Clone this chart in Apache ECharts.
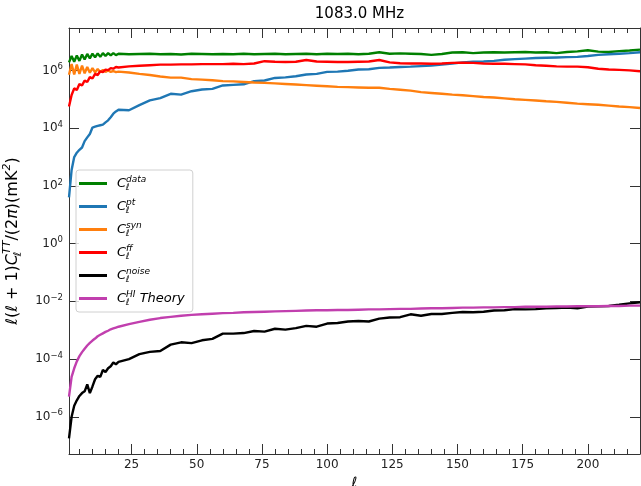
<!DOCTYPE html>
<html>
<head>
<meta charset="utf-8">
<title>1083.0 MHz</title>
<script src="https://cdn.jsdelivr.net/npm/echarts@6/dist/echarts.min.js"></script>
<style>
  html, body { margin: 0; padding: 0; background: #fff; }
  #chart { width: 641px; height: 486px; }
</style>
</head>
<body>
<div id="chart"></div>
<script>
// multipole ℓ
const ell = [
  1, 2, 3, 4, 5, 6, 7, 8, 9, 10, 11, 12, 13, 14, 15, 16, 17, 18, 19, 20,
  24, 28, 32, 36, 40, 44, 48, 52, 56, 60, 64, 68, 72, 76, 80, 84, 88, 92, 96, 100,
  104, 108, 112, 116, 120, 124, 128, 132, 136, 140, 144, 148, 152, 156, 160, 164, 168, 172, 176, 180,
  184, 188, 192, 196, 200, 204, 208, 212, 216, 220,
];

// log10 of l(l+1)C_l/(2pi) in mK^2
const clData = [
  6.28, 6.50, 6.30, 6.52, 6.33, 6.55, 6.38, 6.57, 6.42, 6.58, 6.45, 6.59, 6.47, 6.60, 6.50, 6.60, 6.52, 6.60, 6.53, 6.58,
  6.56, 6.57, 6.58, 6.56, 6.57, 6.55, 6.58, 6.57, 6.56, 6.57, 6.56, 6.58, 6.56, 6.57, 6.58, 6.56, 6.57, 6.58, 6.56, 6.58,
  6.57, 6.58, 6.56, 6.58, 6.63, 6.58, 6.59, 6.58, 6.57, 6.54, 6.57, 6.62, 6.63, 6.60, 6.62, 6.63, 6.62, 6.63, 6.64, 6.62,
  6.63, 6.60, 6.64, 6.66, 6.70, 6.65, 6.64, 6.67, 6.69, 6.72,
];
const clPt = [
  1.60, 2.55, 3.00, 3.15, 3.25, 3.33, 3.55, 3.68, 3.80, 4.02, 4.05, 4.08, 4.10, 4.12, 4.20, 4.27, 4.38, 4.50, 4.58, 4.64,
  4.62, 4.80, 4.96, 5.04, 5.19, 5.16, 5.28, 5.34, 5.36, 5.48, 5.50, 5.52, 5.63, 5.65, 5.74, 5.76, 5.80, 5.86, 5.88, 5.95,
  5.96, 5.99, 6.03, 6.04, 6.09, 6.10, 6.12, 6.13, 6.15, 6.17, 6.20, 6.24, 6.28, 6.30, 6.31, 6.33, 6.37, 6.39, 6.41, 6.43,
  6.44, 6.45, 6.46, 6.47, 6.50, 6.54, 6.56, 6.58, 6.60, 6.63,
];
const clSyn = [
  5.85, 6.22, 5.86, 6.20, 5.88, 6.17, 5.90, 6.12, 5.92, 6.08, 5.93, 6.05, 5.94, 6.02, 5.95, 6.00, 5.95, 5.98, 5.94, 5.96,
  5.93, 5.88, 5.84, 5.79, 5.75, 5.75, 5.70, 5.68, 5.66, 5.63, 5.62, 5.60, 5.58, 5.57, 5.55, 5.53, 5.51, 5.49, 5.47, 5.45,
  5.43, 5.42, 5.41, 5.40, 5.40, 5.36, 5.33, 5.30, 5.25, 5.22, 5.19, 5.16, 5.14, 5.11, 5.08, 5.06, 5.03, 5.00, 4.98, 4.96,
  4.93, 4.91, 4.88, 4.85, 4.83, 4.81, 4.78, 4.75, 4.73, 4.70,
];
const clFf = [
  4.75, 5.15, 5.38, 5.32, 5.53, 5.48, 5.65, 5.60, 5.77, 5.72, 5.88, 5.84, 5.97, 5.94, 6.03, 6.01, 6.08, 6.06, 6.12, 6.10,
  6.14, 6.16, 6.18, 6.20, 6.20, 6.21, 6.21, 6.22, 6.22, 6.22, 6.23, 6.22, 6.24, 6.32, 6.30, 6.29, 6.30, 6.36, 6.31, 6.30,
  6.29, 6.29, 6.30, 6.31, 6.36, 6.28, 6.25, 6.24, 6.24, 6.23, 6.24, 6.26, 6.27, 6.26, 6.24, 6.23, 6.23, 6.22, 6.21, 6.18,
  6.16, 6.14, 6.13, 6.13, 6.11, 6.06, 6.03, 6.02, 6.00, 5.97,
];
const clNoise = [
  -6.75, -6.00, -5.62, -5.43, -5.28, -5.18, -5.12, -4.88, -5.18, -4.95, -4.70, -4.58, -4.62, -4.38, -4.45, -4.32, -4.25, -4.12, -4.18, -4.10,
  -4.00, -3.83, -3.75, -3.72, -3.50, -3.42, -3.45, -3.35, -3.30, -3.12, -3.12, -3.10, -3.03, -3.05, -2.95, -2.98, -2.93, -2.85, -2.88, -2.77,
  -2.75, -2.70, -2.68, -2.70, -2.60, -2.56, -2.55, -2.45, -2.50, -2.44, -2.44, -2.40, -2.37, -2.38, -2.36, -2.32, -2.31, -2.27, -2.28, -2.27,
  -2.24, -2.23, -2.22, -2.24, -2.18, -2.17, -2.16, -2.12, -2.07, -2.03,
];
const clHI = [
  -5.30, -4.62, -4.32, -4.08, -3.90, -3.76, -3.64, -3.53, -3.44, -3.36, -3.29, -3.21, -3.16, -3.11, -3.06, -3.02, -2.97, -2.94, -2.91, -2.88,
  -2.79, -2.71, -2.64, -2.58, -2.54, -2.50, -2.47, -2.45, -2.43, -2.41, -2.40, -2.38, -2.37, -2.36, -2.35, -2.34, -2.33, -2.32, -2.31, -2.31,
  -2.30, -2.30, -2.29, -2.28, -2.28, -2.27, -2.26, -2.26, -2.25, -2.24, -2.24, -2.23, -2.22, -2.22, -2.21, -2.21, -2.20, -2.20, -2.19, -2.19,
  -2.19, -2.18, -2.18, -2.17, -2.17, -2.17, -2.16, -2.16, -2.15, -2.15,
];

const xMajor = [25, 50, 75, 100, 125, 150, 175, 200];
const xMinor = [5, 10, 15, 20, 30, 35, 40, 45, 55, 60, 65, 70, 80, 85, 90, 95, 105, 110, 115, 120,
  130, 135, 140, 145, 155, 160, 165, 170, 180, 185, 190, 195, 205, 210, 215];
const yMajor = [-6, -4, -2, 0, 2, 4, 6]; // decades

const legendLabels = {
  data: '{c|C}{sb|ℓ}{sp|data}',
  pt: '{c|C}{sb|ℓ}{sp|pt}',
  syn: '{c|C}{sb|ℓ}{sp|syn}',
  ff: '{c|C}{sb|ℓ}{sp|ff}',
  noise: '{c|C}{sb|ℓ}{sp|noise}',
  HI: '{c|C}{sb|ℓ}{sp|HI}{t| Theory}',
};

const FONT = 'DejaVu Sans';
const AXIS_COLOR = '#333';

const chart = echarts.init(document.getElementById('chart'));

const toPoints = (vals) => ell.map((l, i) => [l, vals[i]]);

const lineSeries = (name, vals, color) => ({
  name,
  type: 'line',
  data: toPoints(vals),
  symbol: 'none',
  smooth: false,
  lineStyle: { color, width: 2.4 },
  itemStyle: { color },
  emphasis: { disabled: true },
});

const xAxisBase = {
  type: 'value',
  min: 1,
  max: 220,
  splitLine: { show: false },
};
const yAxisBase = {
  type: 'value',
  min: -7.29,
  max: 7.47,
  splitLine: { show: false },
};

const option = {
  animation: false,
  backgroundColor: '#fff',
  title: {
    text: '1083.0 MHz',
    left: 354.5,
    textAlign: 'center',
    top: 2,
    textStyle: { fontFamily: FONT, fontSize: 15, fontWeight: 'normal', color: '#000' },
  },
  grid: {
    left: 69,
    right: 1,
    top: 28,
    bottom: 32,
    containLabel: false,
    outerBoundsMode: 'none',
  },
  legend: {
    orient: 'vertical',
    left: 76,
    top: 170,
    padding: [5, 8, 5, 3],
    itemWidth: 28,
    itemHeight: 3,
    itemGap: 6,
    icon: 'rect',
    backgroundColor: 'rgba(255,255,255,0.8)',
    borderColor: '#d0d0d0',
    borderWidth: 1,
    borderRadius: 3,
    formatter: (name) => legendLabels[name],
    textStyle: {
      color: '#000',
      rich: {
        c: { fontFamily: FONT, fontStyle: 'italic', fontSize: 13, lineHeight: 17, padding: [0, 0, 0, 5] },
        sb: { fontFamily: FONT, fontStyle: 'italic', fontSize: 9, verticalAlign: 'bottom', width: 0 },
        sp: { fontFamily: FONT, fontStyle: 'italic', fontSize: 9, verticalAlign: 'top' },
        t: { fontFamily: FONT, fontStyle: 'italic', fontSize: 13 },
      },
    },
  },
  xAxis: [
    { // bottom, major ticks and labels
      ...xAxisBase,
      position: 'bottom',
      name: 'ℓ',
      nameLocation: 'middle',
      nameGap: 20,
      nameTextStyle: { fontFamily: FONT, fontStyle: 'italic', fontSize: 14, color: '#000' },
      axisLine: { show: true, onZero: false, lineStyle: { color: AXIS_COLOR, width: 1 } },
      axisTick: { show: true, inside: true, length: 10, customValues: xMajor, lineStyle: { color: AXIS_COLOR } },
      axisLabel: { show: true, customValues: xMajor, margin: 5, fontFamily: FONT, fontSize: 12, color: '#222' },
    },
    { // bottom, minor ticks
      ...xAxisBase,
      position: 'bottom',
      axisLine: { show: false, onZero: false },
      axisTick: { show: true, inside: true, length: 5, customValues: xMinor, lineStyle: { color: AXIS_COLOR } },
      axisLabel: { show: false },
    },
    { // top, major ticks
      ...xAxisBase,
      position: 'top',
      axisLine: { show: true, onZero: false, lineStyle: { color: AXIS_COLOR, width: 1 } },
      axisTick: { show: true, inside: true, length: 10, customValues: xMajor, lineStyle: { color: AXIS_COLOR } },
      axisLabel: { show: false },
    },
    { // top, minor ticks
      ...xAxisBase,
      position: 'top',
      axisLine: { show: false, onZero: false },
      axisTick: { show: true, inside: true, length: 5, customValues: xMinor, lineStyle: { color: AXIS_COLOR } },
      axisLabel: { show: false },
    },
  ],
  yAxis: [
    {
      ...yAxisBase,
      position: 'left',
      name: '{i|ℓ}{r|(}{i|ℓ}{r| + 1)}{i|C}{sb|ℓ}{sp|TT}{r|/(2}{i|π}{r|)(mK}{sp|2}{r|)}',
      nameLocation: 'middle',
      nameGap: 45,
      nameTextStyle: {
        color: '#000',
        rich: {
          i: { fontFamily: FONT, fontStyle: 'italic', fontSize: 16, lineHeight: 22 },
          r: { fontFamily: FONT, fontSize: 16, lineHeight: 22 },
          sb: { fontFamily: FONT, fontStyle: 'italic', fontSize: 11, verticalAlign: 'bottom', width: 0 },
          sp: { fontFamily: FONT, fontStyle: 'italic', fontSize: 11, verticalAlign: 'top' },
        },
      },
      axisLine: { show: true, onZero: false, lineStyle: { color: AXIS_COLOR, width: 1 } },
      axisTick: { show: true, inside: true, length: 10, customValues: yMajor, lineStyle: { color: AXIS_COLOR } },
      axisLabel: {
        show: true,
        customValues: yMajor,
        margin: 6,
        formatter: (v) => `{b|10}{s|${v < 0 ? '−' + (-v) : v}}`,
        rich: {
          b: { fontFamily: FONT, fontSize: 12, lineHeight: 16, color: '#222' },
          s: { fontFamily: FONT, fontSize: 8.5, verticalAlign: 'top', color: '#222' },
        },
      },
    },
    {
      ...yAxisBase,
      position: 'right',
      axisLine: { show: true, onZero: false, lineStyle: { color: AXIS_COLOR, width: 1 } },
      axisTick: { show: true, inside: true, length: 10, customValues: yMajor, lineStyle: { color: AXIS_COLOR } },
      axisLabel: { show: false },
    },
  ],
  series: [
    lineSeries('data', clData, '#008000'),
    lineSeries('pt', clPt, '#1f77b4'),
    lineSeries('syn', clSyn, '#ff7f0e'),
    lineSeries('ff', clFf, '#ff0000'),
    lineSeries('noise', clNoise, '#000000'),
    lineSeries('HI', clHI, '#c13fae'),
  ],
};

chart.setOption(option);
</script>
</body>
</html>
